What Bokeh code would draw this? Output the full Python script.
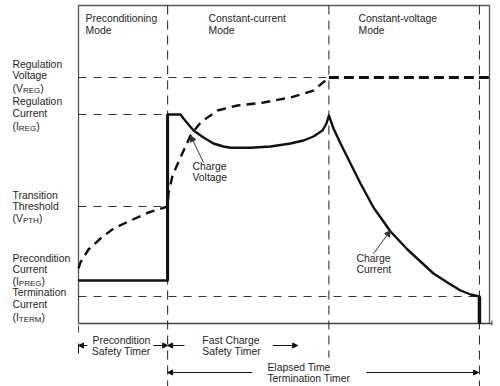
from bokeh.plotting import figure
from bokeh.models import Range1d, Arrow, NormalHead
from bokeh.core.properties import value
from bokeh.embed import file_html
from bokeh.resources import INLINE

# ---------------- data (relative time units / relative level units) ----------------
level_names = ["VREG", "IREG", "VPTH", "IPREG", "ITERM"]
level_values = [24.6, 20.9, 11.7, 4.3, 2.7]
phase_bounds = [0.0, 1.0, 2.81, 4.5]
frame_right = 4.613
frame_top = 31.8

# charge voltage (dashed)
voltage_t = [0.0, 0.022, 0.112, 0.247, 0.393, 0.584, 0.786, 1.0,
             1.01, 1.055, 1.145, 1.257, 1.369, 1.56, 1.785, 2.077, 2.38, 2.64, 2.795, 2.81]
voltage_v = [5.5, 6.1, 7.4, 8.5, 9.5, 10.3, 11.1, 11.7,
             13.0, 14.8, 16.6, 18.8, 20.1, 21.3, 21.8, 22.1, 22.6, 23.3, 24.5, 24.6]

# charge current (solid)
current_t = [0.0, 1.0, 1.0, 1.145, 1.178, 1.291, 1.403, 1.515, 1.627, 1.706, 1.93,
             2.155, 2.379, 2.525, 2.637, 2.738, 2.783, 2.81,
             2.862, 2.941, 3.053, 3.165, 3.311, 3.502, 3.692, 3.838, 3.984, 4.141,
             4.287, 4.4, 4.5, 4.5]
current_i = [4.3, 4.3, 20.9, 20.9, 20.5, 19.3, 18.6, 18.0, 17.7, 17.57, 17.57,
             17.7, 18.0, 18.3, 18.7, 19.3, 20.0, 20.8,
             19.5, 18.0, 16.0, 14.0, 11.6, 9.2, 7.4, 6.2, 5.0, 4.1,
             3.3, 2.9, 2.7, 0.0]

mode_labels = [["Preconditioning", "Mode"], ["Constant-current", "Mode"], ["Constant-voltage", "Mode"]]
level_labels = [["Regulation", "Voltage", "(V", "REG"],
                ["Regulation", "Current", "(I", "REG"],
                ["Transition", "Threshold", "(V", "PTH"],
                ["Precondition", "Current", "(I", "PREG"],
                ["Termination", "Current", "(I", "TERM"]]
timer_labels = [["Precondition", "Safety Timer"], ["Fast Charge", "Safety Timer"],
                ["Elapsed Time", "Termination Timer"]]

# ---------------- figure ----------------
FONT = value("Liberation Sans")
FS = 10.4
SUB = 8.0
INK = "#111111"
TXT = "#1e1e1e"

p = figure(width=500, height=386, x_range=Range1d(-78 / 89.1, 422 / 89.1), y_range=Range1d(-6.3, 32.3),
           output_backend="svg", toolbar_location=None, min_border=0,
           x_axis_type=None, y_axis_type=None)
p.grid.visible = False
p.outline_line_color = None
p.background_fill_color = "white"

# frame
p.line([0, 0, frame_right, frame_right], [0, frame_top, frame_top, 0], line_color="#555555", line_width=1.3)
p.line([0, 4.64], [0, 0], line_color="#444444", line_width=1.3)
p.line([4.64, 4.64], [0.3, -0.2], line_color="#444444", line_width=1)
p.line([0, 0], [-0.2, -0.9], line_color="#444444", line_width=1)

# vertical phase dividers
p.line([phase_bounds[1]] * 2, [frame_top, -6.3], line_color="#333333", line_width=1.1, line_dash="9 6")
p.line([phase_bounds[2]] * 2, [frame_top, -3.4], line_color="#333333", line_width=1.1, line_dash="9 6")
p.line([phase_bounds[3]] * 2, [frame_top, -6.3], line_color="#333333", line_width=1.1, line_dash="9 6")

# horizontal reference levels
vreg, ireg, vpth, ipreg, iterm = level_values
p.line([0, phase_bounds[2]], [vreg, vreg], line_color="#333333", line_width=1.1, line_dash="8 7")
p.line([0, phase_bounds[1]], [ireg, ireg], line_color="#333333", line_width=1.1, line_dash="8 7")
p.line([0, phase_bounds[1]], [vpth, vpth], line_color="#333333", line_width=1.1, line_dash="8 7")
p.line([0, phase_bounds[3]], [iterm, iterm], line_color="#333333", line_width=1.1, line_dash="8 7")

# constant-voltage (bold dashed)
p.line([phase_bounds[2], 4.64], [vreg, vreg], line_color=INK, line_width=3, line_dash="10 5")

# charge voltage
p.line(voltage_t, voltage_v, line_color=INK, line_width=2.4, line_dash="9 6")

# charge current
p.line(current_t, current_i, line_color=INK, line_width=2.4, line_join="round")
p.line([phase_bounds[1]] * 2, [ipreg, ireg], line_color=INK, line_width=3)
p.line([phase_bounds[3]] * 2, [iterm, 0], line_color=INK, line_width=3.5)

# ---------------- texts ----------------
def txt(x, y, s, size=FS, xo=0, yo=0):
    p.text(x=[x], y=[y], text=[s], text_font=FONT, text_font_size=value(f"{size}px"),
           text_color=TXT, text_baseline="middle", text_align="left", x_offset=xo, y_offset=yo)

AW = {"(": 333, ")": 333, "V": 667, "I": 278, "R": 722, "E": 667, "G": 778, "P": 667,
      "T": 611, "H": 722, "M": 833}

def width(s, size):
    return sum(AW[c] for c in s) * size / 1000.0

# mode headers
mode_x = [0.079, 1.459, 3.143]
for mx, lines in zip(mode_x, mode_labels):
    txt(mx, 30.5, lines[0])
    txt(mx, 29.3, lines[1])

# level labels
label_rows = [(25.9, 24.8, 23.5), (22.2, 21.0, 19.7), (12.8, 11.7, 10.5), (6.5, 5.4, 4.2), (3.1, 1.9, 0.6)]
lx = -0.741
for rows, lab in zip(label_rows, level_labels):
    txt(lx, rows[0], lab[0])
    txt(lx, rows[1], lab[1])
    txt(lx, rows[2], lab[2])
    w1 = width(lab[2], FS)
    txt(lx, rows[2], lab[3], size=SUB, xo=w1, yo=2)
    txt(lx, rows[2], ")", xo=w1 + width(lab[3], SUB))

# curve annotations
txt(1.279, 15.7, "Charge")
txt(1.279, 14.6, "Voltage")
txt(3.12, 6.5, "Charge")
txt(3.12, 5.4, "Current")

def arrow(x0, y0, x1, y1, color=INK, size=6):
    p.add_layout(Arrow(end=NormalHead(size=size, fill_color=color, line_color=color, line_width=1),
                       x_start=x0, y_start=y0, x_end=x1, y_end=y1, line_color=color, line_width=1))

arrow(1.403, 16.1, 1.257, 18.8, color="#333333")
arrow(3.311, 7.0, 3.502, 9.3, color="#333333")

# timers
txt(0.157, -1.7, timer_labels[0][0])
txt(0.15, -2.8, timer_labels[0][1])
txt(1.39, -1.7, timer_labels[1][0])
txt(1.39, -2.8, timer_labels[1][1])
txt(2.12, -4.4, timer_labels[2][0])
txt(2.12, -5.5, timer_labels[2][1])

p.line([0, 0], [-2.0, -3.0], line_color=INK, line_width=1)
arrow(0.10, -2.2, 0.0, -2.2, size=5)
arrow(0.84, -2.2, 1.0, -2.2, size=5)
arrow(1.19, -2.2, 1.0, -2.2, size=5)
arrow(2.18, -2.2, 2.46, -2.2, size=5)
arrow(1.95, -4.9, 1.0, -4.9, size=5)
arrow(3.23, -4.9, 4.49, -4.9, size=5)

open("out.html", "w").write(file_html(p, INLINE))
